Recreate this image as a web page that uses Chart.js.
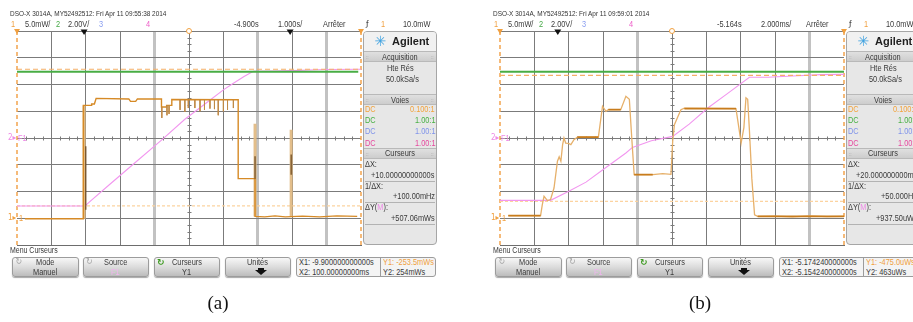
<!DOCTYPE html>
<html>
<head>
<meta charset="utf-8">
<script src="https://cdn.jsdelivr.net/npm/chart.js@4.4.1/dist/chart.umd.min.js"></script>
<style>
html,body{margin:0;padding:0;background:#fff;overflow:hidden;}
#page{position:relative;width:913px;height:322px;overflow:hidden;background:#fff;}
.panel{position:absolute;top:0;width:460px;height:290px;}
.panel canvas{position:absolute;left:0;top:0;}
.t{position:absolute;white-space:nowrap;line-height:1;color:#3a3a3a;font-family:"Liberation Sans Narrow","Liberation Sans",Arial,sans-serif;font-size:9px;}
.box{position:absolute;box-sizing:border-box;}
.cap{position:absolute;font-family:"Liberation Serif","DejaVu Serif",serif;font-size:19px;color:#111;line-height:1;white-space:nowrap;}
</style>
</head>
<body>
<div id="page"></div>
<script>
// ================= DATA (screen divisions: x 0..10, y -4..4) =================
// ---- panel (a) ----
const A_ch1_t = [0.23,1.93,1.93,2.17,2.17,2.25,2.30,3.25,3.30,3.45,3.50,4.20,4.20,4.35,4.35,4.50,4.50,6.43,6.43,6.92,6.92,7.20,7.50,7.80,8.30,8.80,9.30,9.89];
const A_ch1_v = [-3.02,-3.02,1.22,1.22,1.27,1.27,1.48,1.46,1.37,1.37,1.46,1.46,1.16,1.16,1.22,1.22,1.44,1.43,-1.52,-1.52,-2.93,-2.95,-2.91,-2.95,-2.92,-2.95,-2.91,-2.93];
const A_dip_t   = [4.21,4.36,4.42,4.74,4.88,4.98,5.17,5.32,5.45,5.61,5.74,5.85,6.00,6.12,6.29];
const A_dip_top = [1.16,1.22,1.22,1.44,1.43,1.43,1.43,1.43,1.43,1.43,1.43,1.43,1.43,1.43,1.43];
const A_dip_bot = [0.75,0.85,0.90,1.05,0.98,1.12,1.12,1.00,1.05,1.10,1.08,0.85,1.00,1.05,1.12];
const A_glow_t   = [1.95,6.92,7.97];
const A_glow_top = [1.22,0.53,0.31];
const A_glow_bot = [-3.02,-2.93,-2.93];
const A_core_t   = [2.00,6.92,7.97];
const A_core_top = [-0.31,-0.68,-0.62];
const A_core_bot = [-2.68,-1.52,-1.37];
const A_f1_t = [0,1.98,2.10,2.70,3.37,4.20,4.88,5.51,6.00,6.28,6.60,6.87,7.50,8.00,8.50,9.00,10];
const A_f1_v = [-2.54,-2.54,-2.40,-1.73,-0.99,-0.08,0.70,1.32,1.80,2.04,2.30,2.49,2.50,2.52,2.54,2.56,2.57];
const A_ch2_t = [0,9.92];
const A_ch2_v = [2.48,2.48];
const A_cursorY = [-2.54,2.57];   // Y1, Y2
const A_cursorX = [0,10];         // X1, X2
const A_trig = [1.95,7.94];
const A_gnd = [-3.0,0];           // ch1 ground, F1/ch2 reference
const A_thick = [4,7,9];

// ---- panel (b) ----
const B_ch1_t = [0.24,1.18,1.23,1.28,1.38,1.47,1.57,1.67,1.72,1.77,1.82,1.86,1.91,1.99,2.06,2.15,2.25,2.86,2.98,3.08,3.15,3.51,3.66,3.76,3.83,3.90,4.00,4.44,4.73,4.97,5.02,5.07,5.16,5.26,5.36,6.86,6.93,7.01,7.09,7.15,7.20,7.25,7.32,7.40,7.49,8.00,8.50,9.00,9.50,10];
const B_ch1_v = [-2.90,-2.90,-2.49,-2.18,-2.34,-2.30,-1.87,-0.87,-0.70,-0.87,-0.25,0.00,-0.19,-0.20,-0.25,-0.06,0.03,0.03,1.19,1.00,1.06,1.06,1.56,1.45,0.00,-1.37,-1.37,-1.37,-1.33,-1.36,-0.12,0.50,0.77,1.06,1.12,1.10,0.50,-0.19,0.39,1.50,1.45,0.30,-1.50,-2.87,-2.93,-2.92,-2.95,-2.91,-2.94,-2.93];
const B_flat_t0 = [0.24,2.25,3.15,3.90,5.36,7.49];
const B_flat_t1 = [1.18,2.86,3.51,4.44,6.86,10.0];
const B_flat_v  = [-2.90,0.03,1.06,-1.37,1.10,-2.93];
const B_f1_t = [0,1.47,2.00,2.50,3.00,3.66,3.85,4.40,5.02,5.50,6.04,6.60,7.25,7.79,8.50,9.33,10];
const B_f1_v = [-2.33,-2.33,-1.99,-1.65,-1.18,-0.56,-0.35,-0.10,0.06,0.52,1.12,1.65,2.27,2.27,2.32,2.37,2.38];
const B_ch2_t = [0,10];
const B_ch2_v = [2.48,2.48];
const B_cursorY = [-2.37,2.34];
const B_cursorX = [0,10];
const B_trig = [1.68];
const B_gnd = [-3.0,0];
const B_thick = [4,9];

// ================= helpers =================
const page = document.getElementById('page');
function fontAvail(name){
  const c=document.createElement('canvas').getContext('2d');
  c.font='40px monospace'; const a=c.measureText('Acquisition 0123').width;
  c.font='40px "'+name+'", monospace'; const b=c.measureText('Acquisition 0123').width;
  return Math.abs(a-b)>0.5;
}
const SX = fontAvail('Liberation Sans Narrow') ? 1 : 0.82;

function T(parent, s, x, y, o){
  o = o || {};
  const e=document.createElement('div');
  e.className='t';
  if (o.html) e.innerHTML=s; else e.textContent=s;
  if (o.size) e.style.fontSize=o.size+'px';
  if (o.color) e.style.color=o.color;
  if (o.bold) e.style.fontWeight='bold';
  if (o.font) e.style.fontFamily=o.font;
  parent.appendChild(e);
  const w=e.offsetWidth, h=e.offsetHeight;
  let sx = o.font ? 1 : SX;
  if (o.w) sx = o.w / w;
  const al=o.align||'left';
  const left = al==='left' ? x : al==='right' ? x - w*sx : x - w*sx/2;
  e.style.left=left+'px'; e.style.top=(y-h/2)+'px';
  e.style.transformOrigin='0 50%'; e.style.transform='scaleX('+sx+')';
  return e;
}
function B(parent, x, y, w, h, css){
  const d=document.createElement('div'); d.className='box';
  d.style.left=x+'px'; d.style.top=y+'px'; d.style.width=w+'px'; d.style.height=h+'px';
  Object.assign(d.style, css||{}); parent.appendChild(d); return d;
}
const pts=(t,v)=>t.map((x,i)=>({x:x,y:v[i]}));
const segs=(t,top,bot)=>t.flatMap((x,i)=>[{x:x,y:top[i]},{x:x,y:bot[i]},{x:x,y:null}]);
const hsegs=(t0,t1,v)=>t0.flatMap((x,i)=>[{x:x,y:v[i]},{x:t1[i],y:v[i]},{x:t1[i],y:null}]);

const osciPlugin = {
  id:'osci',
  beforeDatasetsDraw(chart){
    const ctx=chart.ctx, x=chart.scales.x, y=chart.scales.y;
    ctx.save(); ctx.strokeStyle='#7b7b7b'; ctx.lineWidth=1;
    const cx=Math.round(x.getPixelForValue(5))+0.5, cy=Math.round(y.getPixelForValue(0))+0.5;
    for(let i=1;i<40;i++){ if(i%4===0) continue;
      const px=Math.round(x.getPixelForValue(i/4))+0.5;
      ctx.beginPath(); ctx.moveTo(px,cy-2); ctx.lineTo(px,cy+2); ctx.stroke(); }
    for(let i=1;i<32;i++){ if(i%4===0) continue;
      const py=Math.round(y.getPixelForValue(-4+i/4))+0.5;
      ctx.beginPath(); ctx.moveTo(cx-2,py); ctx.lineTo(cx+2,py); ctx.stroke(); }
    ctx.restore();
  },
  afterDatasetsDraw(chart){
    const o=chart.options.plugins.osci, ctx=chart.ctx, x=chart.scales.x, top=chart.chartArea.top;
    ctx.save();
    ctx.fillStyle='#111';
    o.trig.forEach(v=>{ const px=x.getPixelForValue(v);
      ctx.beginPath(); ctx.moveTo(px-3.5,top-1.5); ctx.lineTo(px+3.5,top-1.5); ctx.lineTo(px,top+4); ctx.closePath(); ctx.fill(); });
    ctx.fillStyle='#f0a040';
    o.cur.forEach(v=>{ const px=x.getPixelForValue(v);
      ctx.beginPath(); ctx.moveTo(px-3,top-2); ctx.lineTo(px+3,top-2); ctx.lineTo(px,top+3); ctx.closePath(); ctx.fill(); });
    const pc=x.getPixelForValue(5);
    ctx.strokeStyle='#f0a040'; ctx.fillStyle='#fff'; ctx.lineWidth=1;
    ctx.beginPath(); ctx.arc(pc,top,2.5,0,Math.PI*2); ctx.fill(); ctx.stroke();
    ctx.restore();
  }
};

function makeChart(cv, D){
  const ds=[];
  const line=(data,color,width,extra)=>ds.push(Object.assign({data:data,borderColor:color,backgroundColor:color,borderWidth:width,showLine:true,pointRadius:0,fill:false,tension:0,spanGaps:false},extra||{}));
  // back to front
  D.cursorX.forEach(cx=>line(pts([cx,cx],[-4,4]),'#f2a44e',1.5,{borderDash:[4,3],clip:false}));
  line(pts([0,10],[D.cursorY[0],D.cursorY[0]]),'#fcd3a0',1.2,{borderDash:[3,2]});
  line(pts(D.f1t,D.f1v),'#f296ef',1.1);
  line(pts(D.ch2t,D.ch2v),'#48ad44',2);
  line(pts([0,10],[D.cursorY[1],D.cursorY[1]]),'#f5b068',1.2,{borderDash:[5,3]});
  if (D.glow) line(segs(D.glow.t,D.glow.top,D.glow.bot),'rgba(226,186,132,0.95)',3);
  line(pts(D.ch1t,D.ch1v),D.ch1c,D.ch1w);
  if (D.flat) line(hsegs(D.flat.t0,D.flat.t1,D.flat.v),'#c87c1c',1.8);
  if (D.dip) line(segs(D.dip.t,D.dip.top,D.dip.bot),'#c08a46',1);
  if (D.core) line(segs(D.core.t,D.core.top,D.core.bot),'#6b471c',1.2);
  ds.forEach((d,i)=>d.order=ds.length-i);
  return new Chart(cv,{
    type:'scatter',
    data:{datasets:ds},
    options:{
      responsive:false, animation:false, events:[], devicePixelRatio:1,
      layout:{padding:{left:17,top:31,right:460-361,bottom:250-245}},
      plugins:{legend:{display:false},tooltip:{enabled:false},osci:{trig:D.trig,cur:D.cursorX}},
      scales:{
        x:{type:'linear',min:0,max:10,afterFit:s=>{s.height=0;},
           ticks:{display:false,stepSize:1},
           grid:{drawTicks:false,
                 color:c=>(c.tick.value===0||c.tick.value===10)?'rgba(0,0,0,0)':(D.thick.includes(c.tick.value)?'#c2c2c2':'#7b7b7b'),
                 lineWidth:c=>D.thick.includes(c.tick.value)?3:1},
           border:{display:true,color:'#6d6d6d',width:1}},
        y:{type:'linear',min:-4,max:4,afterFit:s=>{s.width=0;},
           ticks:{display:false,stepSize:1},
           grid:{drawTicks:false,color:'#7b7b7b',lineWidth:1},
           border:{display:false}}
      }
    },
    plugins:[osciPlugin]
  });
}

function buildPanel(P, D){
  const root=document.createElement('div'); root.className='panel'; root.style.left=P.off+'px'; page.appendChild(root);
  // side panel
  B(root,363,31,74,214,{border:'1px solid #a6a6a6',borderRadius:'4px',background:'#e7e7e7'});
  B(root,364,32,72,19,{background:'#f1f1f1',borderRadius:'3px 3px 0 0'});
  const hdr={background:'linear-gradient(#e0e0e0,#cdcdcd)',borderTop:'1px solid #b9b9b9',borderBottom:'1px solid #b9b9b9'};
  B(root,364,51,72,11,hdr);
  B(root,364,94,72,11,hdr);
  B(root,364,148,72,11,hdr);
  [181,202,224].forEach(yy=>B(root,365,yy,70,1,{background:'#b3b3b3'}));
  // bottom buttons
  const btn={border:'1px solid #9c9c9c',borderRadius:'3px',background:'linear-gradient(#f7f7f7,#d9d9d9 55%,#bcbcbc)',boxShadow:'0 1px 1px rgba(0,0,0,0.35)'};
  [[12,67],[83,66],[154,66],[225,66]].forEach(b=>B(root,b[0],257,b[1],20,btn));
  B(root,296,257,140,20,{border:'1px solid #9c9c9c',borderRadius:'3px',background:'#f4f4f4'});
  B(root,380,258,1,18,{background:'#9c9c9c'});
  // Unités arrow
  B(root,255,270,0,0,{borderLeft:'6px solid transparent',borderRight:'6px solid transparent',borderTop:'5px solid #111'});
  B(root,258,268,6,2,{background:'#111'});

  // chart
  const cv=document.createElement('canvas'); cv.width=460; cv.height=250; cv.style.width='460px'; cv.style.height='250px';
  root.appendChild(cv);
  const ch=makeChart(cv,D);

  // header
  T(root,P.head1,10,13.5,{size:7.5,w:156,color:'#333'});
  T(root,'1',11,24,{color:'#f0a040'});
  T(root,'5.0mW/',25,24);
  T(root,'2',56,24,{color:'#44a844'});
  T(root,'2.00V/',68,24);
  T(root,'3',99,24,{color:'#8a9ef0'});
  T(root,'4',146,24,{color:'#ee5fc8'});
  T(root,P.delay,234,24);
  T(root,P.tb,278,24);
  T(root,'Arrêter',323,24);
  T(root,'ƒ',366,24,{font:'"DejaVu Sans",sans-serif',size:7.5,color:'#222'});
  T(root,'1',381,24,{color:'#f0a040'});
  T(root,'10.0mW',403,24);

  // left markers, placed from the chart scale
  const yF=ch.scales.y.getPixelForValue(D.gnd[1]), y1=ch.scales.y.getPixelForValue(D.gnd[0]);
  T(root,'2▸',8,yF,{size:8,color:'#ee8ae6',font:'"DejaVu Sans Condensed","DejaVu Sans",sans-serif'});
  T(root,'F1',18,yF,{size:9,color:'#ee8ae6'});
  T(root,'1▸',8,y1,{size:8,color:'#f0a040',font:'"DejaVu Sans Condensed","DejaVu Sans",sans-serif'});
  T(root,'1',19,y1,{size:9,color:'#f0a040'});

  // side texts
  T(root,'✳',380.5,41,{font:'"DejaVu Sans",sans-serif',size:14,color:'#3fa2e0',align:'center'});
  T(root,'Agilent',392,41,{size:11,bold:true,color:'#222',font:'"Liberation Sans",Arial,sans-serif'});
  T(root,'::',366,57,{size:6,color:'#999'}); T(root,'::',431,57,{size:6,color:'#999'});
  T(root,'Acquisition',400,57,{align:'center'});
  T(root,'Hte Rés',401,68,{align:'center'});
  T(root,'50.0kSa/s',402,79.5,{align:'center'});
  T(root,'::',366,100,{size:6,color:'#999'}); T(root,'::',431,100,{size:6,color:'#999'});
  T(root,'Voies',400,100,{align:'center'});
  const vc=['#f2a33c','#47b043','#7f93ea','#e6489e'], vv=['0.100:1','1.00:1','1.00:1','1.00:1'];
  [109,120.3,131.7,143].forEach((yy,i)=>{ T(root,'DC',364.5,yy,{color:vc[i]}); T(root,vv[i],435,yy,{color:vc[i],align:'right'}); });
  T(root,'::',366,153.5,{size:6,color:'#999'}); T(root,'::',431,153.5,{size:6,color:'#999'});
  T(root,'Curseurs',400,153.5,{align:'center'});
  T(root,'ΔX:',364.5,164.5);
  T(root,P.dx,434.5,175.5,{align:'right'});
  T(root,'1/ΔX:',364.5,186);
  T(root,P.inv,434.5,196.5,{align:'right'});
  T(root,'ΔY(<span style="color:#ee8ae6">M</span>):',364.5,207,{html:true});
  T(root,P.dy,434.5,218,{align:'right'});

  // bottom texts
  T(root,'Menu Curseurs',10,250.5,{size:8.5});
  const ic={font:'"DejaVu Sans",sans-serif',size:8,color:'#a5a5a5'};
  T(root,'↻',15.5,262,ic); T(root,'↻',86,262,ic);
  T(root,'↻',157,262,{font:'"DejaVu Sans",sans-serif',size:9,color:'#3d9a20',bold:true});
  T(root,'Mode',45.5,262,{align:'center'}); T(root,'Manuel',45.5,272,{align:'center'});
  T(root,'Source',116,262,{align:'center'}); T(root,'F1',116,272,{align:'center',color:'#f0b4ee'});
  T(root,'Curseurs',187,262,{align:'center'}); T(root,'Y1',187,272,{align:'center'});
  T(root,'Unités',258,262,{align:'center'});
  T(root,P.x1,299,262); T(root,P.x2,299,272);
  T(root,P.y1,383,262,{color:'#f0a040'}); T(root,P.y2,383,272);
}

buildPanel({off:0, head1:'DSO-X 3014A, MY52492512: Fri Apr 11 09:55:38 2014', delay:'-4.900s', tb:'1.000s/',
  dx:'+10.00000000000s', inv:'+100.00mHz', dy:'+507.06mWs',
  x1:'X1: -9.900000000000s', x2:'X2: 100.00000000ms', y1:'Y1: -253.5mWs', y2:'Y2: 254mWs'},
  {ch1t:A_ch1_t,ch1v:A_ch1_v,ch1c:'#d68a26',ch1w:1.4,
   dip:{t:A_dip_t,top:A_dip_top,bot:A_dip_bot},
   glow:{t:A_glow_t,top:A_glow_top,bot:A_glow_bot},
   core:{t:A_core_t,top:A_core_top,bot:A_core_bot},
   f1t:A_f1_t,f1v:A_f1_v,ch2t:A_ch2_t,ch2v:A_ch2_v,
   cursorY:A_cursorY,cursorX:A_cursorX,trig:A_trig,gnd:A_gnd,thick:A_thick});

buildPanel({off:483, head1:'DSO-X 3014A, MY52492512: Fri Apr 11 09:59:01 2014', delay:'-5.164s', tb:'2.000ms/',
  dx:'+20.000000000ms', inv:'+50.000Hz', dy:'+937.50uWs',
  x1:'X1: -5.174240000000s', x2:'X2: -5.154240000000s', y1:'Y1: -475.0uWs', y2:'Y2: 463uWs'},
  {ch1t:B_ch1_t,ch1v:B_ch1_v,ch1c:'#e6b06a',ch1w:1.3,
   flat:{t0:B_flat_t0,t1:B_flat_t1,v:B_flat_v},
   f1t:B_f1_t,f1v:B_f1_v,ch2t:B_ch2_t,ch2v:B_ch2_v,
   cursorY:B_cursorY,cursorX:B_cursorX,trig:B_trig,gnd:B_gnd,thick:B_thick});

// captions
const ca=document.createElement('div'); ca.className='cap'; ca.textContent='(a)'; page.appendChild(ca);
ca.style.left=(218-ca.offsetWidth/2)+'px'; ca.style.top=(302-ca.offsetHeight/2)+'px';
const cb=document.createElement('div'); cb.className='cap'; cb.textContent='(b)'; page.appendChild(cb);
cb.style.left=(700-cb.offsetWidth/2)+'px'; cb.style.top=(302-cb.offsetHeight/2)+'px';
</script>
</body>
</html>
